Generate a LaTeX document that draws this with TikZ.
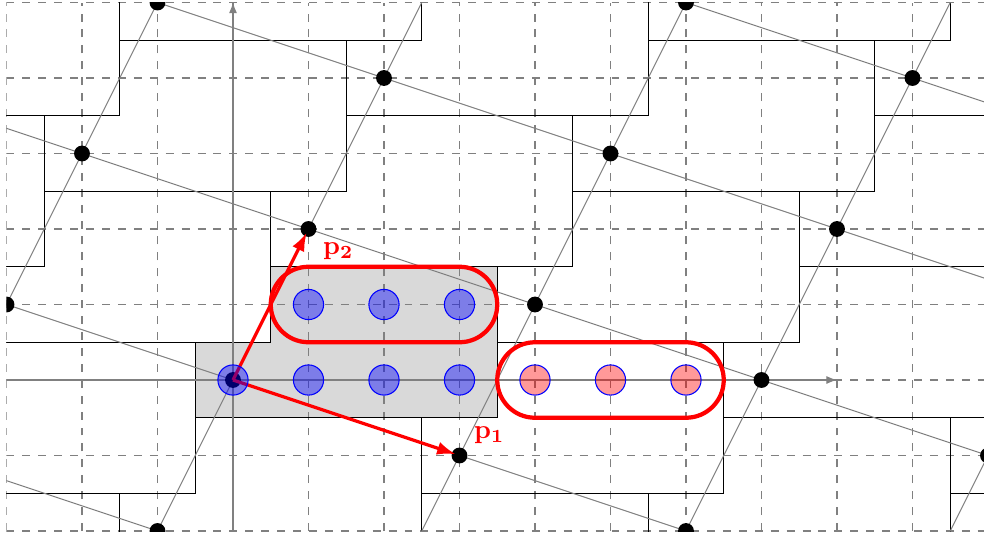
\documentclass[tikz,border=0pt]{standalone}
\usepackage{tikz}
\usetikzlibrary{arrows.meta}
\usetikzlibrary{positioning}

\begin{document}
\begin{tikzpicture}[
        tileline/.style={black, line width=0.5pt},
        latline/.style={gray, line width=0.4pt},
        blueball/.style={draw=blue, fill=blue, fill opacity=0.42},
        redball/.style={draw=blue, fill=red, fill opacity=0.4},
        coset/.style={red, line width=1.6pt, rounded corners=0.5cm},
        basis/.style={red, line width=1.2pt, -{Latex[length=7pt,width=5pt]}, shorten >=1.5pt}]
        \useasboundingbox (-3.086,-2.106) rectangle (9.947,5.033);
        \begin{scope}
        \clip (-3,-2) rectangle (10,5);
        \fill [gray!30] (-0.5,-0.5) -- (3.5,-0.5) -- (3.5,1.5) -- (0.5,1.5) -- (0.5,0.5) -- (-0.5,0.5) -- cycle;
        \draw [gray, dashed] (-3,-2) grid (10,5);
        \foreach \a in {-4,...,5}
          \foreach \b in {-3,...,5}
            \draw [tileline, shift={({3*(\a)+(\b)},{2*(\b)-(\a)})}] (-0.5,-0.5) -- (3.5,-0.5) -- (3.5,1.5) -- (0.5,1.5) -- (0.5,0.5) -- (-0.5,0.5) -- cycle;
        \foreach \a in {-4,...,5}
          \draw [latline] ({3*(\a)-5},{-(\a)-10}) -- ({3*(\a)+5},{-(\a)+10});
        \foreach \b in {-3,...,5}
          \draw [latline] ({(\b)-15},{2*(\b)+5}) -- ({(\b)+15},{2*(\b)-5});
        \draw [-{Latex[length=4pt,width=3pt]}, gray] (-3.5,0) -- (8,0);
        \draw [-{Latex[length=4pt,width=3pt]}, gray] (0,-2.5) -- (0,5);
        \foreach \a in {-4,...,5}
          \foreach \b in {-3,...,5}
            \fill [black] ({3*(\a)+(\b)},{2*(\b)-(\a)}) circle (0.105);
        \end{scope}
        \coordinate (o) at (0,0);
        \coordinate (p1) at (3,-1);
        \coordinate (p2) at (1,2);
        \draw [basis] (o) -- (p1);
        \draw [basis] (o) -- (p2);
        \foreach \x/\y in {0/0,1/0,2/0,3/0,1/1,2/1,3/1}
          \draw [blueball] (\x,\y) circle (0.2);
        \foreach \x in {4,5,6}
          \draw [redball] (\x,0) circle (0.2);
        \draw [coset] (0.5,0.5) rectangle (3.5,1.5);
        \draw [coset] (3.5,-0.5) rectangle (6.5,0.5);
        \node [below right=1.5pt and 2pt, red] (lp2) at (p2) {$\mathbf{p_2}$};
        \node [above right=1pt and 2pt, red] (lp1) at (p1) {$\mathbf{p_1}$};
      \end{tikzpicture}
\end{document}
